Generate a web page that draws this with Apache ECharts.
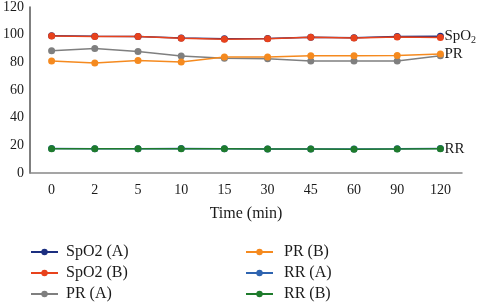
<!DOCTYPE html>
<html>
<head>
<meta charset="utf-8">
<script src="https://cdn.jsdelivr.net/npm/echarts@6/dist/echarts.min.js"></script>
<style>
  html, body { margin: 0; padding: 0; background: #fff; }
  #chart { width: 480px; height: 302px; }
</style>
</head>
<body>
<div id="chart"></div>
<script>
const times = ['0', '2', '5', '10', '15', '30', '45', '60', '90', '120']
const spo2A = [99.2, 98.8, 98.6, 97.6, 97.0, 97.2, 98.2, 97.8, 98.6, 98.8]
const spo2B = [99.0, 98.6, 98.6, 97.4, 96.7, 97.1, 98.1, 97.6, 98.3, 97.9]
const prA = [88.4, 90.0, 87.9, 84.5, 83.0, 82.6, 80.9, 80.9, 81.0, 84.8]
const prB = [81.0, 79.5, 81.4, 80.2, 83.8, 83.8, 84.8, 84.8, 85.0, 86.1]
const rrA = [17.8, 17.6, 17.6, 17.7, 17.6, 17.4, 17.4, 17.4, 17.5, 17.7]
const rrB = [17.6, 17.5, 17.5, 17.6, 17.5, 17.3, 17.3, 17.2, 17.4, 17.6]
const yTicks = [0, 20, 40, 60, 80, 100, 120]

const FONT = '"Liberation Serif", "DejaVu Serif", serif'
const TXT = '#1a1a1a'

function line(name, data, color, endText) {
  const s = {
    name,
    type: 'line',
    data,
    symbol: 'circle',
    symbolSize: 7,
    color,
    lineStyle: { width: 1.5, color },
    itemStyle: { color }
  }
  if (endText) {
    s.endLabel = {
      show: true,
      distance: 4,
      formatter: endText,
      color: TXT,
      fontFamily: FONT,
      fontSize: 15,
      rich: { sub: { fontSize: 10, fontFamily: FONT, color: TXT, verticalAlign: 'bottom', padding: [9, 0, 0, 0] } }
    }
  }
  return s
}

const legendBase = {
  orient: 'vertical', top: 244, height: 80, padding: 0, itemGap: 5, itemWidth: 27, itemHeight: 8,
  textStyle: { fontFamily: FONT, fontSize: 16, color: TXT, padding: [0, 0, 0, 3] }
}

const chart = echarts.init(document.getElementById('chart'))
chart.setOption({
  animation: false,
  textStyle: { fontFamily: FONT },
  grid: { left: 30, right: 18, top: 5, bottom: 129 },
  legend: [
    Object.assign({}, legendBase, { left: 30, data: ['SpO2 (A)', 'SpO2 (B)', 'PR (A)'] }),
    Object.assign({}, legendBase, { left: 245, data: ['PR (B)', 'RR (A)', 'RR (B)'],
      textStyle: Object.assign({}, legendBase.textStyle, { padding: [0, 0, 0, 6] }) })
  ],
  xAxis: {
    type: 'category',
    data: times,
    name: 'Time (min)',
    nameLocation: 'middle',
    nameGap: 33,
    nameTextStyle: { fontFamily: FONT, fontSize: 16, color: TXT },
    axisLine: { lineStyle: { color: '#888', width: 1.5 } },
    axisTick: { show: false },
    axisLabel: { fontFamily: FONT, fontSize: 14, color: TXT, margin: 10 }
  },
  yAxis: {
    type: 'value',
    min: yTicks[0],
    max: yTicks[yTicks.length - 1],
    interval: 20,
    axisLine: { show: true, lineStyle: { color: '#555', width: 1.5 } },
    axisTick: { show: false },
    splitLine: { show: false },
    axisLabel: { fontFamily: FONT, fontSize: 14, color: TXT, margin: 6 }
  },
  series: [
    line('PR (A)', prA, '#7f7f7f'),
    line('PR (B)', prB, '#f58a1f', 'PR'),
    line('RR (A)', rrA, '#2e64b0'),
    line('RR (B)', rrB, '#1e7b2c', 'RR'),
    line('SpO2 (A)', spo2A, '#1c2f80', 'SpO{sub|2}'),
    line('SpO2 (B)', spo2B, '#e8421c')
  ]
})
</script>
</body>
</html>
